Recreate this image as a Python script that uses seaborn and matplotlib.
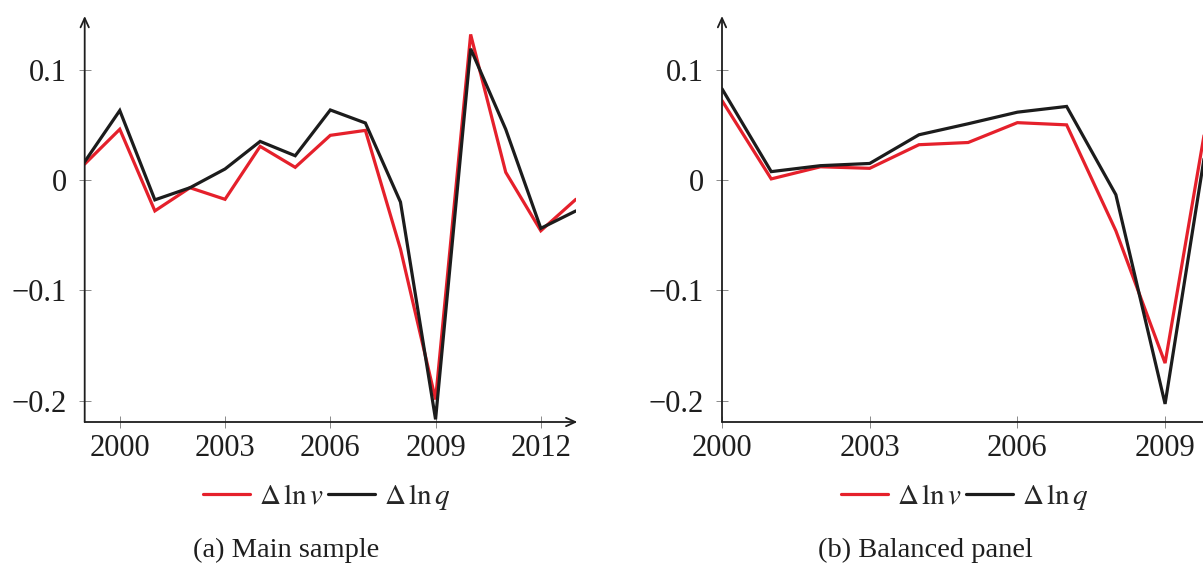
import matplotlib
matplotlib.use("Agg")
import matplotlib.pyplot as plt
import seaborn as sns
import pandas as pd

# Annual changes, main sample (1999-2013)
years_main = [1999, 2000, 2001, 2002, 2003, 2004, 2005, 2006, 2007, 2008, 2009, 2010, 2011, 2012, 2013]
dlnv_main = [0.0145, 0.046, -0.028, -0.007, -0.0175, 0.0305, 0.0115, 0.0405, 0.045, -0.0626, -0.199, 0.132, 0.007, -0.046, -0.0175]
dlnq_main = [0.0166, 0.063, -0.018, -0.007, 0.010, 0.035, 0.022, 0.0635, 0.0517, -0.020, -0.217, 0.119, 0.046, -0.0438, -0.028]

# Annual changes, balanced panel (2000-2010)
years_bal = [2000, 2001, 2002, 2003, 2004, 2005, 2006, 2007, 2008, 2009, 2010]
dlnv_bal = [0.072, 0.001, 0.012, 0.0106, 0.032, 0.034, 0.052, 0.050, -0.046, -0.166, 0.095]
dlnq_bal = [0.0827, 0.0076, 0.013, 0.015, 0.041, 0.051, 0.0615, 0.0667, -0.0133, -0.203, 0.078]

series_labels = [r"$\Delta\,\ln v$", r"$\Delta\,\ln q$"]
series_colors = ["#e5202b", "#1c1c1c"]

ytick_values = [-0.2, -0.1, 0.0, 0.1]
ytick_labels = ["\u22120.2", "\u22120.1", "0", "0.1"]
xticks_main = [2000, 2003, 2006, 2009, 2012]
xticks_bal = [2000, 2003, 2006, 2009]
captions = ["(a) Main sample", "(b) Balanced panel"]

sns.set_theme(style="white")
plt.rcParams["font.family"] = ["Liberation Serif", "DejaVu Serif"]
plt.rcParams["mathtext.fontset"] = "stix"
plt.rcParams["axes.unicode_minus"] = True

W, H = 1203, 570
fig = plt.figure(figsize=(W / 100, H / 100), dpi=100)
fig.patch.set_facecolor("white")

ymin, ymax = -0.2194, 0.1487
ax1 = fig.add_axes([84.7 / W, 148 / H, 491.2 / W, 406 / H])
ax2 = fig.add_axes([722 / W, 148 / H, 640 / W, 406 / H])


def long_frame(years, v, q):
    return pd.DataFrame({
        "year": years * 2,
        "value": v + q,
        "series": [series_labels[0]] * len(years) + [series_labels[1]] * len(years),
    })


def draw_panel(ax, df, xlim, xticks):
    sns.lineplot(data=df, x="year", y="value", hue="series",
                 hue_order=series_labels, palette=series_colors,
                 linewidth=2.3, ax=ax, legend=False, sort=False,
                 solid_joinstyle="miter")
    ax.set_xlim(*xlim)
    ax.set_ylim(ymin, ymax)
    ax.set_xticks(xticks)
    ax.set_xticklabels([str(t) for t in xticks])
    ax.set_yticks(ytick_values)
    ax.set_yticklabels(ytick_labels)
    ax.set_xlabel("")
    ax.set_ylabel("")
    for s in ax.spines.values():
        s.set_visible(False)
    ax.tick_params(axis="both", direction="inout", length=8, width=0.7,
                   color="#8a8a8a", labelsize=22, labelcolor="#1e1e1e")
    ax.tick_params(axis="x", pad=5, bottom=True)
    ax.tick_params(axis="y", pad=9, left=True)
    arrow = dict(arrowstyle="->,head_length=0.55,head_width=0.25",
                 color="#1e1e1e", lw=1.3, shrinkA=0, shrinkB=0)
    ax.annotate("", xy=(1.003, 0), xytext=(0, 0), xycoords="axes fraction",
                arrowprops=arrow, annotation_clip=False)
    ax.annotate("", xy=(0, 1.0), xytext=(0, 0), xycoords="axes fraction",
                arrowprops=arrow, annotation_clip=False)
    return ax


draw_panel(ax1, long_frame(years_main, dlnv_main, dlnq_main), (1999, 2013), xticks_main)
draw_panel(ax2, long_frame(years_bal, dlnv_bal, dlnq_bal), (2000, 2013), xticks_bal)

legend_centers = [327 / W, 965 / W]
caption_centers = [286 / W, 925 / W]
for ax, lx, cx, cap in zip([ax1, ax2], legend_centers, caption_centers, captions):
    handles = ax.get_lines()[:2]
    ax.legend(handles, series_labels, loc="center", ncol=2, frameon=False,
              bbox_to_anchor=(lx, (H - 497) / H), bbox_transform=fig.transFigure,
              fontsize=21, handlelength=1.6, handletextpad=0.3,
              columnspacing=0.15, borderaxespad=0)
    fig.text(cx, (H - 550) / H, cap, ha="center", va="center",
             fontsize=20.5, color="#1e1e1e")

fig.savefig("out.png", dpi=100)
